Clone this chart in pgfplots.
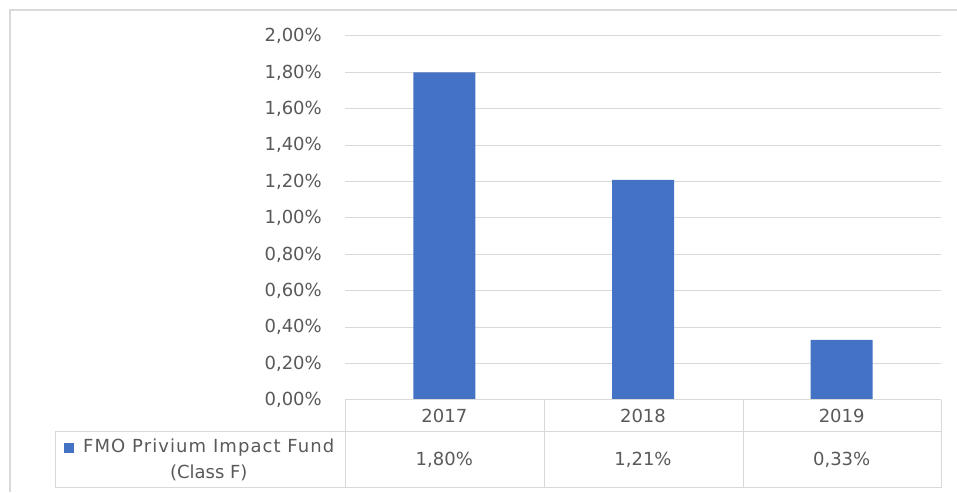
\documentclass[border=0pt]{standalone}
\usepackage{pgfplots}
\pgfplotsset{compat=1.18}
\usepackage{fontspec}
\setmainfont{DejaVu Sans}
\definecolor{barblue}{HTML}{4472C4}
\definecolor{txt}{HTML}{595959}
\definecolor{gridc}{HTML}{D9D9D9}
\begin{document}
\begin{tikzpicture}[font=\fontsize{18}{26}\selectfont]
\useasboundingbox (0pt,0pt) rectangle (957pt,492pt);
\draw[gridc, line width=1.3pt] (10pt,0pt) -- (10pt,482pt) -- (957pt,482pt);
\begin{axis}[
  at={(345pt,92pt)}, anchor=south west,
  scale only axis, width=596pt, height=364pt,
  xmin=-0.5, xmax=2.5, ymin=0, ymax=2,
  clip=false,
  axis line style={draw=none},
  major tick length=0pt,
  ytick={0,0.2,0.4,0.6,0.8,1.0,1.2,1.4,1.6,1.8,2.0},
  xtick={0,1,2}, xticklabels={2017,2018,2019},
  /pgf/number format/assume math mode=true,
  yticklabel={\pgfmathprintnumber[fixed,fixed zerofill,precision=2,use comma]{\tick}\%},
  yticklabel style={anchor=east, inner sep=0pt, xshift=-23pt, text=txt},
  xticklabel style={anchor=center, inner sep=0pt, yshift=-16pt, text=txt},
  ymajorgrids, grid style={gridc, line width=1pt},
  legend style={at={(-0.2433,-0.1621)}, anchor=center, draw=none, fill=none,
     nodes={align=center, text=txt}},
  legend image code/.code={\path[draw=none, fill=none] (0pt,6pt) rectangle (17.5pt,16.5pt);
     \fill[barblue] (0pt,6pt) rectangle (10.5pt,16.5pt);},
]
\addplot[ybar, bar width=62pt, fill=barblue, draw=none] coordinates {(0,1.80) (1,1.21) (2,0.33)};
\addlegendentry{{\addfontfeature{LetterSpace=6}FMO Privium Impact Fund}\\(Class F)}
\addplot[forget plot, draw=none, mark=none, point meta=explicit,
  nodes near coords={\pgfmathprintnumber[fixed,fixed zerofill,precision=2,use comma]{\pgfplotspointmeta}\%},
  nodes near coords style={anchor=center, inner sep=0pt, text=txt}]
  coordinates {(0,-0.3297) [1.80] (1,-0.3297) [1.21] (2,-0.3297) [0.33]};
\end{axis}
\draw[gridc, line width=1pt] (345pt,92pt) -- (941pt,92pt);
\draw[gridc, line width=1pt] (55pt,60pt) -- (941pt,60pt);
\draw[gridc, line width=1pt] (55pt,4.5pt) -- (941pt,4.5pt);
\draw[gridc, line width=1pt] (55pt,60pt) -- (55pt,4.5pt);
\draw[gridc, line width=1pt] (345pt,92pt) -- (345pt,4.5pt);
\draw[gridc, line width=1pt] (544.3pt,92pt) -- (544.3pt,4.5pt);
\draw[gridc, line width=1pt] (743pt,92pt) -- (743pt,4.5pt);
\draw[gridc, line width=1pt] (941pt,92pt) -- (941pt,4.5pt);
\end{tikzpicture}
\end{document}
